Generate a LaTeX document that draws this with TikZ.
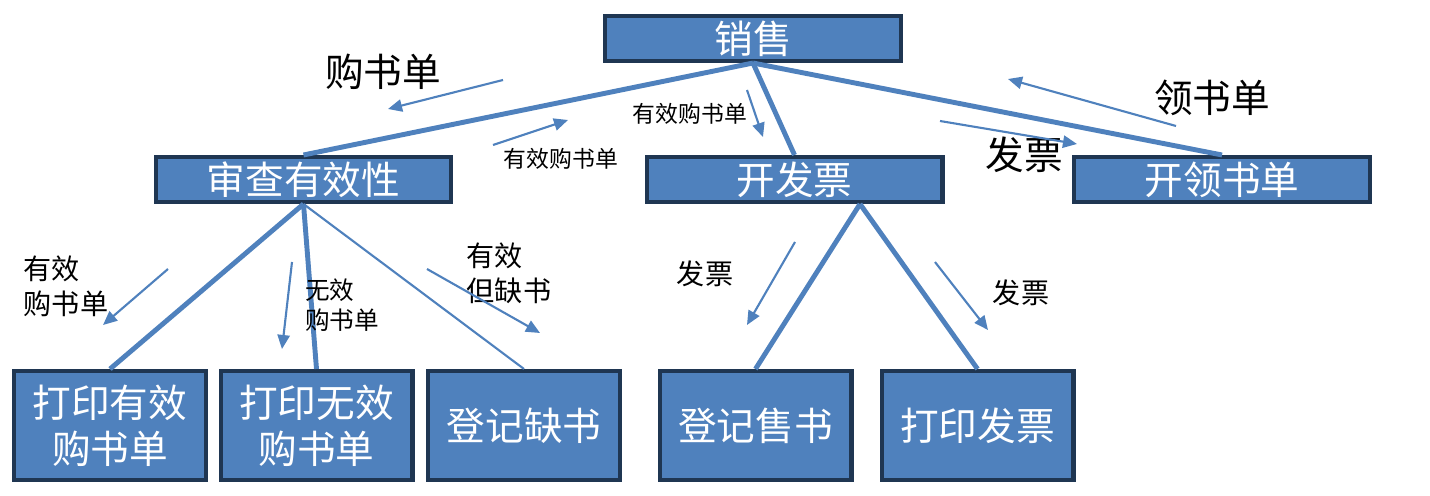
\documentclass[tikz,border=0pt]{standalone}
\usepackage{fontspec}
\newfontfamily\cjk{Noto Sans CJK SC}
\usetikzlibrary{arrows.meta}
\definecolor{boxblue}{HTML}{4F81BD}
\definecolor{boxedge}{HTML}{1F3652}

\begin{document}
\begin{tikzpicture}[x=0.02cm,y=-0.02cm,
    wide/.style={draw=boxedge,line width=2.3pt,fill=boxblue,text=white,
      minimum width=5.92cm,minimum height=0.9cm,inner sep=0pt,
      font=\cjk\fontsize{22}{26}\selectfont},
    tall/.style={wide,minimum width=3.84cm,minimum height=2.18cm,align=center},
    link/.style={boxblue,line width=2.8pt},
    thin/.style={boxblue,line width=1.2pt},
    flow/.style={thin,-{Triangle[length=8pt,width=7pt]}},
    big/.style={inner sep=0pt,font=\cjk\fontsize{22}{26}\selectfont},
    mid/.style={inner sep=0pt,align=left,font=\cjk\fontsize{16}{20}\selectfont},
    small/.style={inner sep=0pt,align=left,font=\cjk\fontsize{13}{17}\selectfont}]
  \useasboundingbox (0,0) rectangle (1430,496);
  \node[wide] (xs) at (753,38.5) {销售};
  \node[wide] (sc) at (303.5,179.5) {审查有效性};
  \node[wide] (kfp) at (794.5,179.5) {开发票};
  \node[wide] (kls) at (1222,179.5) {开领书单};
  \node[tall] (dyx) at (110,425.5) {打印有效\\购书单};
  \node[tall] (dwx) at (316.5,425.5) {打印无效\\购书单};
  \node[tall] (djq) at (524,425.5) {登记缺书};
  \node[tall] (djs) at (755.5,425.5) {登记售书};
  \node[tall] (dfp) at (977.5,425.5) {打印发票};
  \coordinate (kfpout) at ([xshift=1.31cm]kfp.south);
  \begin{scope}[link]
    \draw (xs.south) -- (sc.north);
    \draw (xs.south) -- (kfp.north);
    \draw (xs.south) -- (kls.north);
    \draw (sc.south) -- (dyx.north);
    \draw (sc.south) -- (dwx.north);
    \draw (kfpout) -- (djs.north);
    \draw (kfpout) -- (dfp.north);
  \end{scope}
  \draw[thin] (sc.south) -- (djq.north);
  \node[big] (gsd) at (383,72) {购书单};
  \node[small] (yx1) at (690,114) {有效购书单};
  \node[small] (yx2) at (561,159) {有效购书单};
  \node[big] (lsd) at (1212,98) {领书单};
  \node[big] (fp1) at (1024,155) {发票};
  \node[mid] (yx3) at (66,286) {有效\\购书单};
  \node[small,font=\cjk\fontsize{14}{17}\selectfont] (wx) at (342,305) {无效\\购书单};
  \node[mid] (yq) at (509,273) {有效\\但缺书};
  \node[mid] (fp2) at (705,274) {发票};
  \node[mid] (fp3) at (1021,293) {发票};
  \coordinate (a1s) at (503,80);   \coordinate (a1e) at (388,109);
  \coordinate (a2s) at (493,145);  \coordinate (a2e) at (568,120);
  \coordinate (a3s) at (747,90);   \coordinate (a3e) at (763,137);
  \coordinate (a4s) at (1176,126); \coordinate (a4e) at (1008,79);
  \coordinate (a5s) at (940,121);  \coordinate (a5e) at (1077,144);
  \coordinate (a6s) at (168,269);  \coordinate (a6e) at (103,325);
  \coordinate (a7s) at (292,262);  \coordinate (a7e) at (282,349);
  \coordinate (a8s) at (427,269);  \coordinate (a8e) at (540,333);
  \coordinate (a9s) at (795,242);  \coordinate (a9e) at (747,325);
  \coordinate (a10s) at (935,262); \coordinate (a10e) at (988,330);
  \begin{scope}[flow]
    \draw (a1s) -- (a1e);
    \draw (a2s) -- (a2e);
    \draw (a3s) -- (a3e);
    \draw (a4s) -- (a4e);
    \draw (a5s) -- (a5e);
    \draw (a6s) -- (a6e);
    \draw (a7s) -- (a7e);
    \draw (a8s) -- (a8e);
    \draw (a9s) -- (a9e);
    \draw (a10s) -- (a10e);
  \end{scope}
\end{tikzpicture}
\end{document}
